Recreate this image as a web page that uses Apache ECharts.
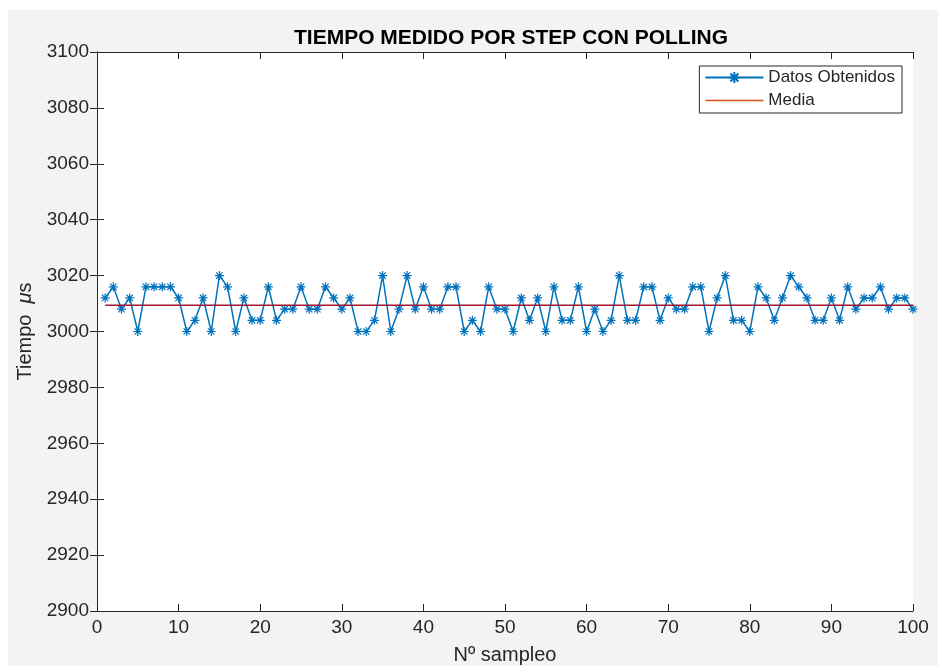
<!DOCTYPE html>
<html>
<head>
<meta charset="utf-8">
<script src="https://cdn.jsdelivr.net/npm/echarts@6/dist/echarts.min.js"></script>
<style>
html,body{margin:0;padding:0;background:#ffffff;}
#chart{width:938px;height:666px;}
</style>
</head>
<body>
<div id="chart"></div>
<script>
// Data
const titleText = 'TIEMPO MEDIDO POR STEP CON POLLING';
const xName = 'Nº sampleo';
const sampleIdx = [1,2,3,4,5,6,7,8,9,10,11,12,13,14,15,16,17,18,19,20,21,22,23,24,25,26,27,28,29,30,31,32,33,34,35,36,37,38,39,40,41,42,43,44,45,46,47,48,49,50,51,52,53,54,55,56,57,58,59,60,61,62,63,64,65,66,67,68,69,70,71,72,73,74,75,76,77,78,79,80,81,82,83,84,85,86,87,88,89,90,91,92,93,94,95,96,97,98,99,100];
const tiempos = [3012,3016,3008,3012,3000,3016,3016,3016,3016,3012,
                 3000,3004,3012,3000,3020,3016,3000,3012,3004,3004,
                 3016,3004,3008,3008,3016,3008,3008,3016,3012,3008,
                 3012,3000,3000,3004,3020,3000,3008,3020,3008,3016,
                 3008,3008,3016,3016,3000,3004,3000,3016,3008,3008,
                 3000,3012,3004,3012,3000,3016,3004,3004,3016,3000,
                 3008,3000,3004,3020,3004,3004,3016,3016,3004,3012,
                 3008,3008,3016,3016,3000,3012,3020,3004,3004,3000,
                 3016,3012,3004,3012,3020,3016,3012,3004,3004,3012,
                 3004,3016,3008,3012,3012,3016,3008,3012,3012,3008];
const media = 3009.36;
const mediaX = [1, 100];
const seriesNames = ['Datos Obtenidos', 'Media'];

const starPath = 'path://M0,-10 L0,10 M-10,0 L10,0 M-7.07,-7.07 L7.07,7.07 M-7.07,7.07 L7.07,-7.07';
const font = '"Liberation Sans", Arial, sans-serif';
const txt = '#262626';

const chart = echarts.init(document.getElementById('chart'), null, {renderer:'canvas'});
const axisCommon = {
  min: 0, max: 100, interval: 10,
  axisLine: {show:true, onZero:false, lineStyle:{color:txt, width:1}},
  axisTick: {show:true, inside:true, length:7, lineStyle:{color:txt}},
  splitLine: {show:false}
};
chart.setOption({
  backgroundColor: '#ffffff',
  animation: false,
  graphic: [{type:'rect', z:-10, shape:{x:8, y:10, width:930, height:656}, style:{fill:'#f3f3f3'}}],
  title: {
    text: titleText, left: 506, top: 23, textAlign: 'center',
    textStyle: {fontFamily: font, fontWeight: 'bold', fontSize: 21, color: '#000'}
  },
  grid: {left: 97, right: 25, top: 52, bottom: 55, show: true, backgroundColor: '#ffffff', borderWidth: 0,
         containLabel: false, outerBoundsMode: 'none'},
  legend: {
    right: 36, top: 66, orient: 'vertical', itemGap: 6, itemWidth: 58, itemHeight: 14,
    backgroundColor: '#ffffff', borderColor: '#262626', borderWidth: 1, borderRadius: 0,
    padding: [3, 7, 4, 5],
    textStyle: {fontFamily: font, fontSize: 17, color: txt},
    data: [
      {name: seriesNames[0]},
      {name: seriesNames[1], itemStyle: {color: 'rgba(0,0,0,0)', borderWidth: 0}, lineStyle: {color: '#D95319', width: 1.5}}
    ]
  },
  xAxis: [
    Object.assign({}, axisCommon, {
      type: 'value', position: 'bottom',
      name: xName, nameLocation: 'middle', nameGap: 34,
      nameTextStyle: {fontFamily: font, fontSize: 20, color: txt},
      axisLabel: {show:true, fontFamily: font, fontSize: 19, color: txt, margin: 7}
    }),
    Object.assign({}, axisCommon, {type:'value', position:'top', axisLabel:{show:false}})
  ],
  yAxis: [
    {
      type: 'value', min: 2900, max: 3100, interval: 20, position: 'left',
      name: '{n|Tiempo  }{i|μ}{n|s}', nameLocation: 'middle', nameGap: 60,
      nameTextStyle: {rich: {n:{fontFamily: font, fontSize: 20, color: txt}, i:{fontFamily: font, fontSize: 20, color: txt, fontStyle:'italic'}}},
      axisLine: {show:true, lineStyle:{color:txt}},
      axisTick: {show:true, inside:true, length:7, lineStyle:{color:txt}},
      axisLabel: {fontFamily: font, fontSize: 19, color: txt, margin: 8, formatter: v => String(v)},
      splitLine: {show:false}
    },
    {
      type: 'value', min: 2900, max: 3100, interval: 20, position: 'right',
      axisLine: {show:true, lineStyle:{color:txt}},
      axisTick: {show:true, inside:true, length:7, lineStyle:{color:txt}},
      axisLabel: {show:false}, splitLine: {show:false}
    }
  ],
  series: [
    {
      name: seriesNames[0], type: 'line',
      data: sampleIdx.map((x, i) => [x, tiempos[i]]),
      symbol: starPath, symbolSize: 9, showSymbol: true,
      lineStyle: {color: '#0072BD', width: 1.5},
      itemStyle: {color: '#0072BD', borderColor: '#0072BD', borderWidth: 1.2},
      z: 2
    },
    {
      name: seriesNames[1], type: 'line',
      data: mediaX.map(x => [x, media]),
      symbol: 'none',
      lineStyle: {color: '#A2142F', width: 1.5},
      itemStyle: {color: '#A2142F'},
      z: 3
    }
  ]
});
</script>
</body>
</html>
